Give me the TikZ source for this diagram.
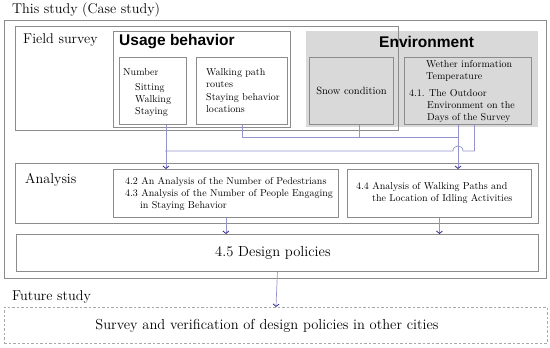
\documentclass[tikz,border=0pt]{standalone}
\usepackage{fontspec}
\newfontfamily\headfont{Liberation Sans}
\usetikzlibrary{arrows.meta,positioning,calc}
\definecolor{rule}{HTML}{8C8C8C}
\definecolor{shade}{HTML}{D9D9D9}
\definecolor{wirec}{HTML}{9494CC}
\definecolor{tipc}{HTML}{2E2E8A}
\definecolor{dashc}{HTML}{A8A8A8}

\begin{document}
\begin{tikzpicture}[
  x=1pt, y=-1pt,
  frame/.style={draw=rule, line width=0.9pt, anchor=north west, inner sep=0pt},
  shaded/.style={frame, fill=shade},
  heading/.style={anchor=west, inner sep=0pt, font=\fontsize{14.2}{16}\selectfont},
  bold/.style={anchor=west, inner sep=0pt, font=\headfont\bfseries\fontsize{15.5}{18}\selectfont},
  small/.style={anchor=north west, inner sep=0pt, align=left, font=\fontsize{10}{11.8}\selectfont},
  wire/.style={draw=wirec, line width=0.7pt},
  arr/.style={wire, -{Straight Barb[length=2.5pt,width=6pt,color=tipc,line width=0.8pt]}}
]
\useasboundingbox (0,0) rectangle (550,348);

\node[heading] (study) at (12,10) {This study (Case study)};
\node[frame, minimum width=542pt, minimum height=258pt] (outer) at (4,20) {};
\node[shaded, draw=none, minimum width=232pt, minimum height=96pt] (env) at (306,31) {};
\node[frame, minimum width=383pt, minimum height=104pt] (field) at (15,26) {};
\node[frame, fill=white, minimum width=177pt, minimum height=96pt] (usage) at (113,31) {};
\node[heading] (fieldlbl) at (23,40) {Field survey};
\node[bold] (usagelbl) at (119,42) {Usage behavior};
\node[bold] (envlbl) at (379,42) {Environment};

\node[frame, minimum width=67pt, minimum height=67pt] (num) at (119,57) {};
\node[frame, minimum width=91pt, minimum height=67pt] (walk) at (196,57) {};
\node[shaded, minimum width=84pt, minimum height=67pt, font=\fontsize{10.5}{12}\selectfont] (snow) at (309,57) {Snow condition};
\node[shaded, minimum width=127pt, minimum height=67pt] (wea) at (404,57) {};

\node[small] (numtxt) at (123,68.5) {Number\\[3.3pt]\hspace*{12pt}Sitting\\\hspace*{12pt}Walking\\\hspace*{12pt}Staying};
\node[small] (walktxt) at (206,68.5) {Walking path\\routes\\[1.5pt]Staying behavior\\locations};
\node[small] (weatxt) at (409,60.5) {\hspace*{17pt}Wether information\\\hspace*{17pt}Temperature\\[5.5pt]4.1. The Outdoor\\\hspace*{18pt}Environment on the\\\hspace*{18pt}Days of the Survey};

\node[frame, minimum width=523pt, minimum height=60pt] (ana) at (15,163) {};
\node[heading] (analbl) at (25,180) {Analysis};
\node[frame, minimum width=225pt, minimum height=48pt] (ana1) at (113,169) {};
\node[frame, minimum width=184pt, minimum height=48pt] (ana2) at (347,169) {};
\node[small] (ana1txt) at (125,177.5) {4.2 An Analysis of the Number of Pedestrians\\4.3 Analysis of the Number of People Engaging\\\hspace*{15pt}in Staying Behavior};
\node[small] (ana2txt) at (356,182) {4.4 Analysis of Walking Paths and\\\hspace*{16pt}the Location of Idling Activities};

\node[frame, minimum width=522pt, minimum height=37pt] (des) at (16,234) {};
\node[font=\fontsize{14.6}{17}\selectfont, xshift=-4.5pt] (destxt) at (des.center) {4.5 Design policies};
\node[heading] (futlbl) at (12,297) {Future study};
\node[frame, draw=dashc, dash pattern=on 2.5pt off 2pt, minimum width=543pt, minimum height=36pt] (fut) at (4,307) {};
\node[font=\fontsize{14.5}{17}\selectfont, xshift=-9pt] (futtxt) at (fut.center) {Survey and verification of design policies in other cities};

\coordinate (jw) at (458,137);
\coordinate (jn) at (165,151);
\draw[arr] ([xshift=13pt]num.south) -- ([xshift=13pt]num.south |- ana1.north);
\draw[wire] (walk.south) |- (jw);
\draw[wire] ([xshift=8pt]snow.south) -- ([xshift=8pt]snow.south |- jw);
\draw[arr] (wea.south -| jw) -- (ana2.north -| jw);
\draw[wire] ([xshift=6.5pt]wea.south) |- ($(jw |- jn)+(5,0)$)
  .. controls ($(jw |- jn)+(5,-6.7)$) and ($(jw |- jn)+(-5,-6.7)$) .. ($(jw |- jn)+(-5,0)$) -- (jn);
\draw[arr] (ana1.south) -- (des.north -| ana1.south);
\draw[arr] (ana2.south) -- (des.north -| ana2.south);
\draw[arr] (des.south) -- (fut.north);
\end{tikzpicture}
\end{document}
